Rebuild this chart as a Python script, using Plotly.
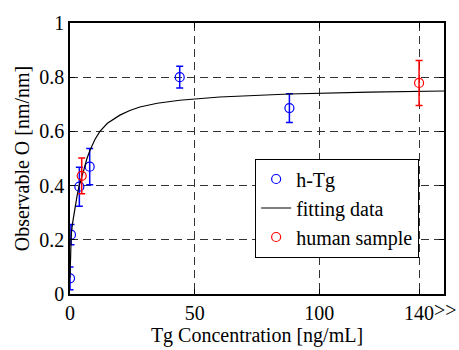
import plotly.graph_objects as go

# --- data ---
htg_x = [0, 0.4, 3.75, 7.9, 44, 88]
htg_y = [0.058, 0.219, 0.396, 0.47, 0.80, 0.686]
htg_err = [0.042, 0.037, 0.072, 0.067, 0.04, 0.053]

human_x = [4.7, 140]
human_y = [0.436, 0.779]
human_err = [0.066, 0.083]

fit_x = [0, 0.25, 0.5, 1, 1.5, 2, 2.8, 3.6, 4.5, 5.6, 6.8, 8, 10, 12, 15, 20, 24, 28, 35, 44, 60, 75, 88, 120, 150]
fit_y = [0.06, 0.16, 0.22, 0.26, 0.29, 0.32, 0.36, 0.397, 0.43, 0.46, 0.50, 0.53, 0.57, 0.60, 0.63, 0.66, 0.677, 0.69, 0.704, 0.715, 0.727, 0.733, 0.738, 0.745, 0.749]

x_tickvals = [0, 50, 100, 140]
x_ticktext = ["0", "50", "100", "140"]
y_tickvals = [0, 0.2, 0.4, 0.6, 0.8, 1]
y_ticktext = ["0", "0.2", "0.4", "0.6", "0.8", "1"]

FONT = "'Liberation Serif', 'Times New Roman', 'DejaVu Serif', serif"

fig = go.Figure()
fig.add_trace(go.Scatter(
    x=htg_x, y=htg_y, mode="markers", name="h-Tg",
    marker=dict(symbol="circle-open", size=9, color="#0000ff", line=dict(width=1.2)),
    error_y=dict(type="data", array=htg_err, color="#0000ff", thickness=1.5, width=3.5),
))
fig.add_trace(go.Scatter(
    x=fit_x, y=fit_y, mode="lines", name="fitting data",
    line=dict(color="black", width=1.2),
))
fig.add_trace(go.Scatter(
    x=human_x, y=human_y, mode="markers", name="human sample",
    marker=dict(symbol="circle-open", size=9, color="#ff0000", line=dict(width=1.2)),
    error_y=dict(type="data", array=human_err, color="#ff0000", thickness=1.5, width=3.5),
))

axis_common = dict(
    showline=True, linecolor="black", linewidth=1.5, mirror="ticks",
    ticks="inside", ticklen=5, tickcolor="black",
    showgrid=True, gridcolor="#333333", gridwidth=1, griddash="8px,5px",
    zeroline=False,
    tickfont=dict(family=FONT, size=20, color="black"),
    title_font=dict(family=FONT, size=20, color="black"),
)

fig.update_xaxes(
    range=[0, 150], tickmode="array", tickvals=x_tickvals, ticktext=x_ticktext,
    title_text="Tg Concentration [ng/mL]", title_standoff=0, **axis_common,
)
fig.update_yaxes(
    range=[0, 1], tickmode="array", tickvals=y_tickvals, ticktext=y_ticktext,
    title_text="Observable O [nm/nm]", title_standoff=4, **axis_common,
)

fig.add_annotation(
    x=140, y=0, xref="x", yref="paper", text=">>", showarrow=False,
    xanchor="left", yanchor="top", xshift=13, yshift=-3,
    font=dict(family=FONT, size=20, color="black"),
)

fig.update_layout(
    width=459, height=350,
    margin=dict(l=70, r=15, t=16, b=48),
    paper_bgcolor="white", plot_bgcolor="white",
    showlegend=True,
    legend=dict(
        x=0.495, y=0.5, xanchor="left", yanchor="top",
        bgcolor="white", bordercolor="black", borderwidth=1,
        font=dict(family=FONT, size=20, color="black"),
        tracegroupgap=0, itemwidth=30,
    ),
    font=dict(family=FONT, size=20, color="black"),
)

fig.write_html("out.html")
